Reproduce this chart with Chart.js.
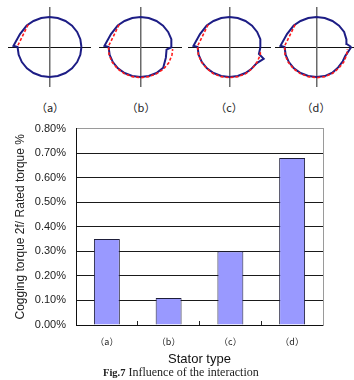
<!DOCTYPE html>
<html>
<head>
<meta charset="utf-8">
<script src="https://cdn.jsdelivr.net/npm/chart.js@4.4.1/dist/chart.umd.min.js"></script>
<style>
  html, body { margin: 0; padding: 0; background: #fff; }
  body { width: 354px; height: 380px; position: relative; overflow: hidden; }
  canvas { position: absolute; display: block; }
  .plabel { position: absolute; top: 99px; width: 40px; text-align: center;
            font: 11px "Noto Sans CJK JP", sans-serif; color: #222; }
  .caption { position: absolute; left: 103px; top: 365px; white-space: nowrap;
             font: 12px "Liberation Serif", serif; color: #222; line-height: 14px; }
  .caption b { font-size: 10.5px; font-weight: 900; }
</style>
</head>
<body>
<canvas id="pa" width="83" height="80"></canvas>
<canvas id="pb" width="83" height="80"></canvas>
<canvas id="pc" width="83" height="80"></canvas>
<canvas id="pd" width="83" height="80"></canvas>
<div class="plabel" style="left:30px">（a）</div>
<div class="plabel" style="left:121px">（b）</div>
<div class="plabel" style="left:209px">（c）</div>
<div class="plabel" style="left:296px">（d）</div>
<canvas id="bars" width="354" height="255" style="left:0;top:112px"></canvas>
<div class="caption"><b>Fig.7</b> Influence of the interaction</div>
<script>
// ---- bar chart data ----
const statorTypes = ['（a）', '（b）', '（c）', '（d）'];
const cogging2f = [0.35, 0.11, 0.30, 0.68];           // % of rated torque
const pctTicks = [0.00, 0.10, 0.20, 0.30, 0.40, 0.50, 0.60, 0.70, 0.80];

// ---- stator outlines: [angle in degrees, relative radius] ----
// measured outline (solid) and reference outline (dashed) for each stator type
const outlineA = [[0,1.00],[15,1.00],[30,1.00],[45,1.00],[60,1.00],[75,1.00],[90,1.00],[105,1.00],[120,1.00],[135,1.01],[155,1.02],[178,1.13],[180,1.00],[195,1.00],[210,1.00],[225,1.00],[240,1.00],[255,1.00],[270,1.00],[285,1.00],[300,1.00],[315,1.00],[330,1.00],[345,1.00],[360,1.00]];
const refA = [[132,1.00],[178,1.00]];

const outlineB = [[0,0.98],[15,1.00],[30,1.00],[45,1.00],[60,1.00],[75,1.00],[90,1.00],[105,1.00],[120,1.00],[135,1.01],[155,1.02],[178,1.13],[180,1.00],[195,1.00],[210,1.00],[225,1.00],[240,1.00],[255,1.00],[270,1.00],[285,1.00],[300,1.00],[316,0.99],[336,0.87],[354,0.82],[360,0.98]];
const refB = [[132,1.00],[178,1.00],[195,1.02],[210,1.02],[225,1.02],[240,1.02],[255,1.02],[270,1.02],[285,1.02],[300,1.02],[315,1.03],[330,1.03],[345,1.02],[356,1.01]];

const outlineC = [[0,0.97],[15,1.00],[30,1.00],[45,1.00],[60,1.00],[75,1.00],[90,1.00],[105,1.00],[120,1.00],[135,1.01],[155,1.02],[178,1.13],[180,1.00],[195,1.00],[210,1.00],[225,1.00],[240,1.00],[255,1.00],[270,1.00],[285,1.00],[300,1.00],[312,1.00],[328,1.01],[340,1.14],[346,0.95],[360,0.97]];
const refC = [[132,1.00],[178,1.00],[195,1.01],[210,1.01],[225,1.01],[240,1.02],[255,1.02],[270,1.02],[285,1.02],[300,1.02],[315,1.01],[330,1.00],[345,1.00],[350,0.98]];

const outlineD = [[0,1.09],[6,0.95],[15,0.97],[30,1.00],[45,1.00],[60,1.00],[75,1.00],[90,1.00],[105,1.00],[120,1.00],[135,1.01],[155,1.02],[178,1.13],[180,1.00],[195,1.00],[210,1.00],[225,1.00],[240,1.00],[255,1.00],[270,1.00],[285,1.00],[300,0.99],[315,0.96],[330,0.95],[342,0.95],[360,1.09]];
const refD = [[132,1.00],[178,1.00],[195,1.02],[210,1.02],[225,1.02],[240,1.02],[255,1.02],[270,1.02],[285,1.02],[300,1.01],[315,0.99],[330,0.99],[345,0.98],[356,0.97]];

const toXY = list => list.map(([deg, r]) => {
  const a = deg * Math.PI / 180;
  return { x: r * Math.cos(a), y: r * Math.sin(a) };
});

function drawOutline(id, left, top, outline, ref) {
  const el = document.getElementById(id);
  el.style.left = left + 'px';
  el.style.top = top + 'px';
  new Chart(el, {
    type: 'scatter',
    data: {
      datasets: [
        { data: toXY(ref), showLine: true, borderColor: '#ff1a1a', borderWidth: 1.6,
          borderDash: [3, 2], pointRadius: 0, tension: 0, order: 0 },
        { data: toXY(outline), showLine: true, borderColor: '#1d1d85', borderWidth: 2,
          pointRadius: 0, tension: 0, order: 1 }
      ]
    },
    options: {
      responsive: false, animation: false, events: [],
      layout: { padding: 0 },
      plugins: { legend: { display: false }, tooltip: { enabled: false } },
      scales: {
        x: { type: 'linear', position: 'center', min: -1.3, max: 1.3,
             grid: { display: false }, ticks: { display: false },
             border: { color: '#111', width: 1 } },
        y: { type: 'linear', position: 'center', min: -1.33, max: 1.33,
             grid: { display: false }, ticks: { display: false },
             border: { color: '#6a6a6a', width: 1.5 } }
      }
    }
  });
}

drawOutline('pa', 8, 7, outlineA, refA);
drawOutline('pb', 99, 7, outlineB, refB);
drawOutline('pc', 188, 7, outlineC, refC);
drawOutline('pd', 275, 7, outlineD, refD);

// ---- bar chart ----
new Chart(document.getElementById('bars'), {
  type: 'bar',
  data: {
    labels: statorTypes,
    datasets: [{
      data: cogging2f,
      backgroundColor: '#9999ff',
      borderColor: '#1e1e3a',
      borderWidth: 1,
      barPercentage: 0.42,
      categoryPercentage: 1.0
    }]
  },
  options: {
    responsive: false, animation: false, events: [],
    layout: { padding: { top: 13, right: 31, left: 0, bottom: 0 } },
    plugins: { legend: { display: false }, tooltip: { enabled: false } },
    scales: {
      x: {
        grid: { offset: true, drawOnChartArea: false, drawTicks: true, tickLength: -4, color: '#222' },
        border: { color: '#111', width: 1 },
        ticks: { font: { family: '"Noto Sans CJK JP"', size: 9 }, color: '#222', padding: 15 },
        title: { display: true, text: 'Stator type', color: '#111',
                 font: { family: '"Liberation Sans"', size: 13 }, padding: { top: 0, bottom: 0 } },
        afterFit: s => { s.height = 42; }
      },
      y: {
        min: 0, max: 0.8,
        afterBuildTicks: s => { s.ticks = pctTicks.map(v => ({ value: v })); },
        grid: { drawTicks: false, lineWidth: 1,
                color: c => (c.tick && c.tick.value >= 0.8 ? '#9a9a9a' : '#1a1a1a') },
        border: { color: '#111', width: 1 },
        ticks: { font: { family: '"Liberation Sans"', size: 11 }, color: '#222', padding: 10,
                 callback: v => v.toFixed(2) + '%' },
        title: { display: true, text: 'Cogging torque 2f/ Rated torque %', color: '#222',
                 font: { family: '"Liberation Sans"', size: 12 }, padding: { top: 13, bottom: 0 } },
        afterFit: s => { s.width = 76; }
      },
      yRight: {
        position: 'right', display: true,
        grid: { display: false }, ticks: { display: false },
        border: { color: '#9a9a9a', width: 1 },
        afterFit: s => { s.width = 0; }
      }
    }
  }
});
</script>
</body>
</html>
